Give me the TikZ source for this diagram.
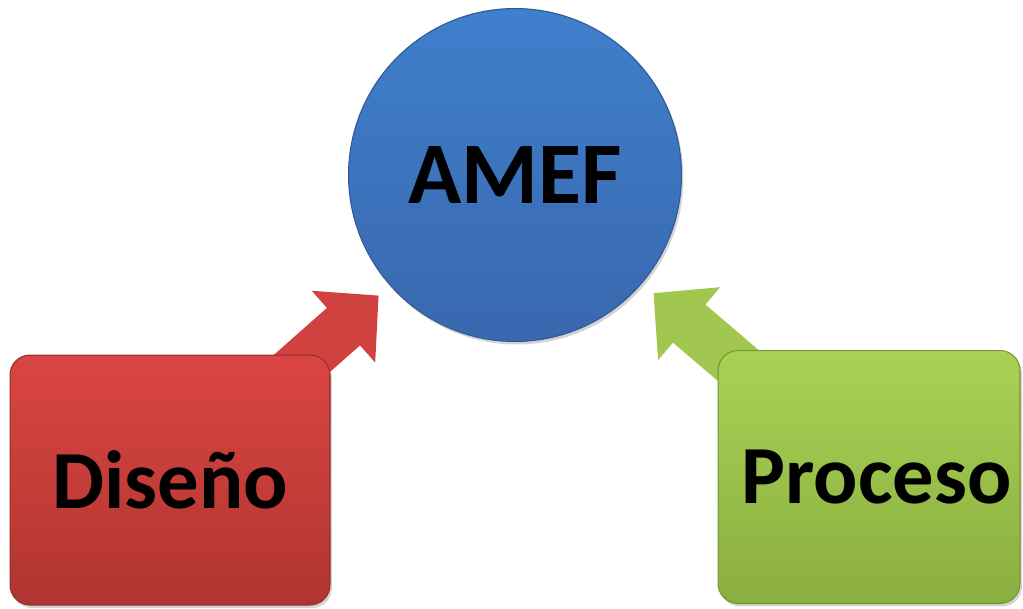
\documentclass[tikz,border=0pt]{standalone}
\usepackage{fontspec}
\setmainfont{Carlito}
\usetikzlibrary{arrows.meta,backgrounds,shadows}
\definecolor{amefblue}{HTML}{3F7FCC}
\definecolor{amefbluedark}{HTML}{3968AE}
\definecolor{disenored}{HTML}{DA4542}
\definecolor{disenoreddark}{HTML}{B03530}
\definecolor{procesogreen}{HTML}{A9D254}
\definecolor{procesogreendark}{HTML}{8AAE40}
\tikzset{box/.style = {rectangle, rounded corners=0.4cm, draw=#1dark!85!black, line width=0.6pt,
                       top color=#1, bottom color=#1dark,
                       drop shadow={opacity=0.35, shadow xshift=0.04cm, shadow yshift=-0.06cm},
                       font=\bfseries\fontsize{47}{56}\selectfont, inner sep=0pt},
         big arrow/.style = {draw=#1, line width=1cm,
                       -{Triangle[length=0.94cm, width=1.86cm]}, shorten >=0.3cm}}

\begin{document}
\begin{tikzpicture}[x=0.02cm, y=-0.02cm]
	\useasboundingbox (0,0) rectangle (1023,608);
\node [circle, minimum size=6.66cm, draw=amefbluedark!85!black, line width=0.6pt,
       top color=amefblue, bottom color=amefbluedark,
       drop shadow={opacity=0.35, shadow xshift=0.04cm, shadow yshift=-0.06cm},
       font=\bfseries\fontsize{50}{60}\selectfont] (amef) at (515,175) {AMEF};
\node [box=disenored, minimum width=6.4cm, minimum height=5cm] (diseno) at (170,480) {Diseño};
\node [box=procesogreen, minimum width=6.04cm, minimum height=5.06cm] (proceso) at (869,477) {\hspace*{0.3cm}Proceso};
\begin{pgfonlayer}{background}
\draw [big arrow=disenored!95!black] (diseno.center) -- (amef);
\draw [big arrow=procesogreen!95!black] (proceso.center) -- (amef);
\end{pgfonlayer}
\end{tikzpicture}
\end{document}
